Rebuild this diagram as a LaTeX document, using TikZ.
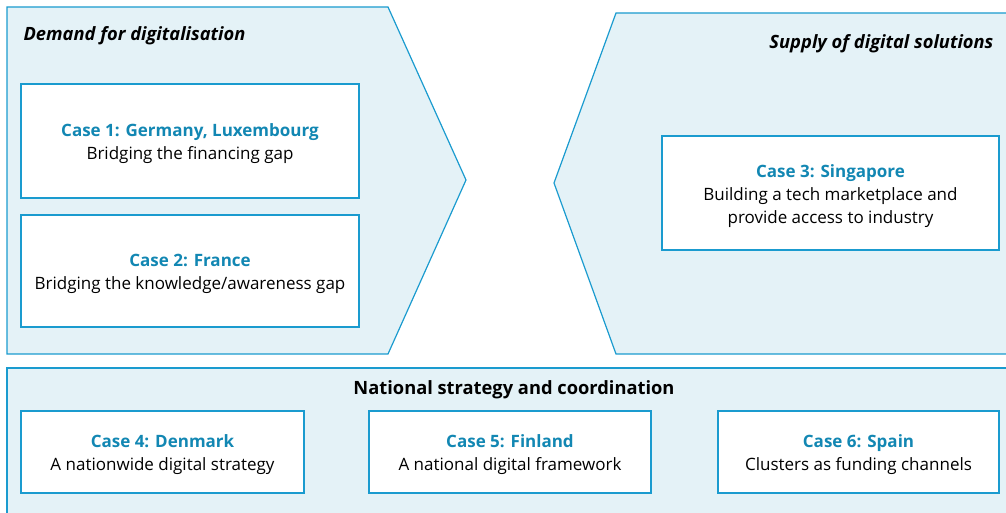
\documentclass[tikz,border=0pt]{standalone}
\usepackage{fontspec}
\setmainfont{Open Sans}
\definecolor{casefill}{HTML}{E4F2F7}
\definecolor{caseline}{HTML}{1A9BCF}
\definecolor{casetitle}{HTML}{1287B3}
\begin{document}
\begin{tikzpicture}[
    x=1bp, y=-1bp,
    line width=1.2bp,
    panel/.style={
        draw=caseline,
        fill=casefill,
    },
    casebox/.style={
        rectangle,
        draw=caseline,
        fill=white,
        inner sep=0pt,
    },
    casetext/.style={
        align=center,
        inner sep=0pt,
        font=\fontsize{17bp}{23bp}\selectfont,
    },
    heading/.style={
        inner sep=0pt,
        font=\fontsize{18.3bp}{22bp}\selectfont\bfseries,
    },
]

    \useasboundingbox (0,0) rectangle (1006,513);
    \clip (0,0) rectangle (1006,513);

    % three panels
    \draw[panel] (7,7) -- (388,7) -- (466,180) -- (388,354) -- (7,354) -- cycle;
    \draw[panel] (616,13) -- (1012,13) -- (1012,354) -- (616,354) -- (554,183) -- cycle;
    \draw[panel] (7,520) -- (7,368) -- (1012,368) -- (1012,520) -- cycle;

    \node[heading,anchor=west]  (demand) at (23,35.5)  {\itshape Demand for digitalisation};
    \node[heading,anchor=east]  (supply) at (994,43.5) {\itshape Supply of digital solutions};
    \node[heading]              (nation) at (514,389.5) {National strategy and coordination};

    % case boxes
    \node[casebox,minimum width=338bp,minimum height=114bp] (c1) at (190,141) {};
    \node[casebox,minimum width=338bp,minimum height=112bp] (c2) at (190,271) {};
    \node[casebox,minimum width=337bp,minimum height=114bp] (c3) at (830.5,193) {};
    \node[casebox,minimum width=283bp,minimum height=82bp]  (c4) at (162.5,452) {};
    \node[casebox,minimum width=282bp,minimum height=82bp]  (c5) at (510,452) {};
    \node[casebox,minimum width=281bp,minimum height=82bp]  (c6) at (858.5,452) {};

    \node[casetext] (t1) at ([yshift=-3bp]c1.center)
        {\textcolor{casetitle}{\bfseries Case 1: Germany, Luxembourg}\\Bridging the financing gap};
    \node[casetext] (t2) at ([yshift=-3bp]c2.center)
        {\textcolor{casetitle}{\bfseries Case 2: France}\\Bridging the knowledge/awareness gap};
    \node[casetext] (t3) at ([yshift=-3bp]c3.center)
        {\textcolor{casetitle}{\bfseries Case 3: Singapore}\\Building a tech marketplace and\\provide access to industry};
    \node[casetext] (t4) at ([yshift=-2.5bp]c4.center)
        {\textcolor{casetitle}{\bfseries Case 4: Denmark}\\A nationwide digital strategy};
    \node[casetext] (t5) at ([yshift=-2.5bp]c5.center)
        {\textcolor{casetitle}{\bfseries Case 5: Finland}\\A national digital framework};
    \node[casetext] (t6) at ([yshift=-2.5bp]c6.center)
        {\textcolor{casetitle}{\bfseries Case 6: Spain}\\Clusters as funding channels};

\end{tikzpicture}
\end{document}
